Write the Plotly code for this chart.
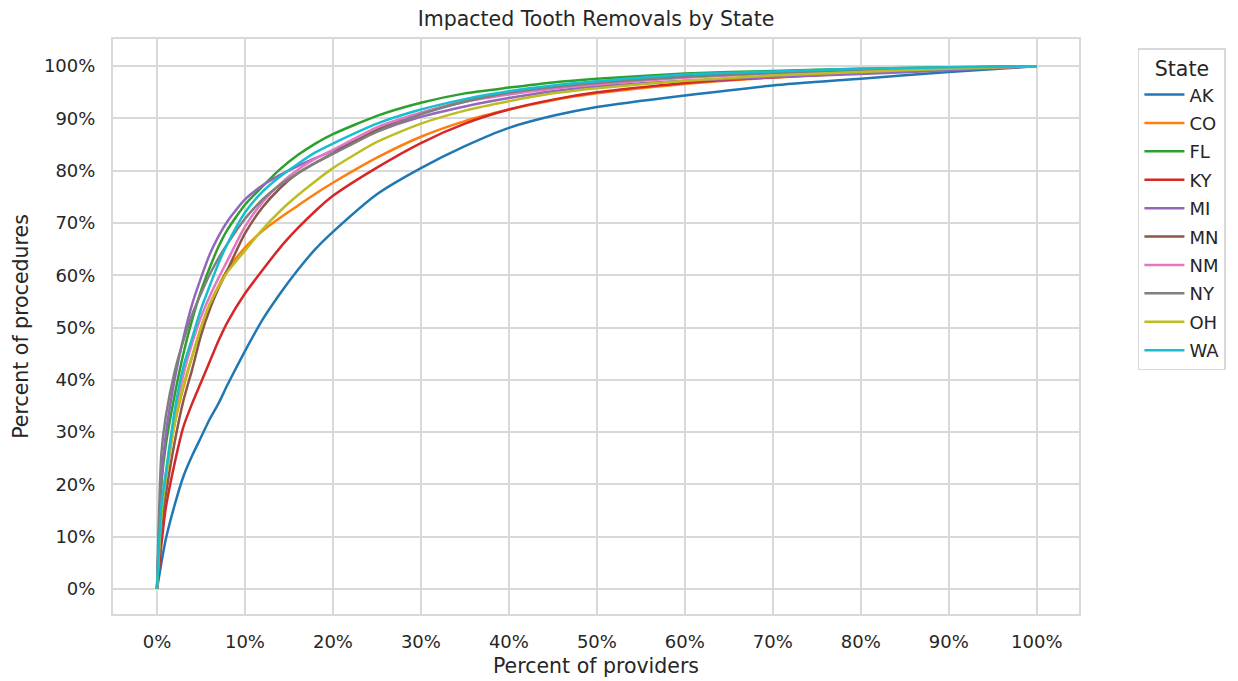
import plotly.graph_objects as go

# Percent of providers (x, in %)
x_pct = [0, 0.5, 1, 2, 3, 4, 5, 6, 7, 8, 10, 12, 14, 16, 18, 20, 25, 30, 35, 40, 45, 50, 60, 70, 80, 90, 100]

states = ["AK", "CO", "FL", "KY", "MI", "MN", "NM", "NY", "OH", "WA"]

# Percent of procedures (y, in %) for each state
ak = [0, 5, 9.5, 16, 21.5, 25.5, 29, 32.5, 35.5, 39, 45.5, 51.5, 56.5, 61, 65, 68.3, 75.5, 80.5, 84.7, 88.2, 90.5, 92.2, 94.4, 96.3, 97.6, 98.9, 100]
co = [0, 14, 21, 31.5, 38.5, 44.5, 50, 54.5, 58, 61, 65.3, 68.5, 71, 73.3, 75.6, 77.7, 82.5, 86.5, 89.5, 91.7, 93.5, 94.8, 96.6, 97.8, 98.7, 99.4, 100]
fl = [0, 20, 27.5, 37, 45, 51.5, 57, 61.5, 65.5, 68.7, 73.5, 77, 80.3, 83, 85.2, 87, 90.5, 93, 94.8, 95.9, 96.9, 97.6, 98.6, 99.1, 99.5, 99.8, 100]
ky = [0, 8.5, 15.5, 24, 31, 35.5, 39.5, 43.5, 47.5, 51, 56.5, 61, 65.3, 69, 72.3, 75.2, 80.6, 85.3, 89, 91.7, 93.6, 95, 96.8, 97.9, 98.7, 99.4, 100]
mi = [0, 21, 29.5, 40, 48, 54.5, 59.5, 64, 67.5, 70.3, 74.5, 77.2, 79.2, 80.9, 82.4, 83.8, 87.5, 90.3, 92.3, 93.9, 95.2, 96.1, 97.2, 97.9, 98.5, 99.2, 100]
mn = [0, 12, 18, 28, 36, 42, 48.5, 53.5, 57.5, 61, 68, 73, 76.7, 79.5, 81.5, 83.3, 87.8, 91, 93.3, 94.9, 96.1, 97, 98.2, 98.9, 99.3, 99.7, 100]
nm = [0, 15, 22, 33, 41, 47, 52, 56, 59.5, 62.8, 69.3, 74, 77.5, 80.2, 82.3, 84, 88.3, 91.1, 93.2, 94.6, 95.7, 96.5, 97.8, 98.6, 99.2, 99.6, 100]
ny = [0, 26, 33, 41.5, 47.5, 52.5, 56.5, 60.2, 63.3, 66, 70.8, 74.5, 77.3, 79.5, 81.5, 83.2, 87.5, 90.8, 93.2, 94.9, 96, 96.8, 98, 98.7, 99.3, 99.7, 100]
oh = [0, 14, 21, 31.5, 39, 44.5, 50, 54.5, 57.8, 60.6, 64.7, 68.8, 72.3, 75.3, 78, 80.5, 85.5, 89, 91.5, 93.3, 94.8, 95.8, 97.2, 98.2, 98.9, 99.5, 100]
wa = [0, 16, 22, 34, 42.5, 48, 53.5, 58, 62.3, 66, 72, 76, 78.9, 81.3, 83.5, 85.2, 89, 91.7, 93.7, 95.2, 96.3, 97.1, 98.4, 99, 99.5, 99.8, 100]

series = [ak, co, fl, ky, mi, mn, nm, ny, oh, wa]
colors = ["#1f77b4", "#ff7f0e", "#2ca02c", "#d62728", "#9467bd",
          "#8c564b", "#e377c2", "#7f7f7f", "#bcbd22", "#17becf"]

tick_vals = [i / 10 for i in range(11)]

fig = go.Figure()
for name, vals, col in zip(states, series, colors):
    fig.add_trace(go.Scatter(
        x=[v / 100 for v in x_pct],
        y=[v / 100 for v in vals],
        mode="lines",
        name=name,
        legendgroup=name,
        line=dict(color=col, width=2.5, shape="spline", smoothing=0.6),
    ))

grid_col = "#d9d9d9"
text_col = "#262626"
font_family = "DejaVu Sans"

axis_common = dict(
    tickvals=tick_vals,
    tickformat=".0%",
    showgrid=True,
    gridcolor=grid_col,
    gridwidth=2,
    zeroline=False,
    showline=True,
    linecolor=grid_col,
    linewidth=2,
    mirror=True,
    ticks="",
    automargin=False,
    tickfont=dict(size=18, color=text_col, family=font_family),
)

fig.update_layout(
    width=1238,
    height=681,
    paper_bgcolor="white",
    plot_bgcolor="white",
    margin=dict(l=113, r=159, t=39, b=67),
    font=dict(family=font_family, color=text_col, size=18),
    title=dict(
        text="Impacted Tooth Removals by State",
        x=(113 + 1079) / 2 / 1238,
        xanchor="center",
        y=1 - 19 / 681,
        yanchor="middle",
        font=dict(size=20.5, color=text_col, family=font_family),
    ),
    xaxis=dict(
        range=[-0.05, 1.048],
        ticklabelstandoff=10,
        title=dict(text="Percent of providers", font=dict(size=20.5, color=text_col), standoff=8),
        **axis_common,
    ),
    yaxis=dict(
        range=[-0.048, 1.052],
        ticklabelstandoff=12,
        title=dict(text="Percent of procedures", font=dict(size=20.5, color=text_col), standoff=10),
        **axis_common,
    ),
    legend=dict(
        title=dict(text="State", side="top center", font=dict(size=20.5, color=text_col)),
        x=1.061,
        xanchor="left",
        y=0.984,
        yanchor="top",
        bordercolor=grid_col,
        borderwidth=1.5,
        bgcolor="white",
        font=dict(size=18, color=text_col),
        tracegroupgap=2,
        itemwidth=40,
    ),
    showlegend=True,
)

fig.write_html("out.html")
